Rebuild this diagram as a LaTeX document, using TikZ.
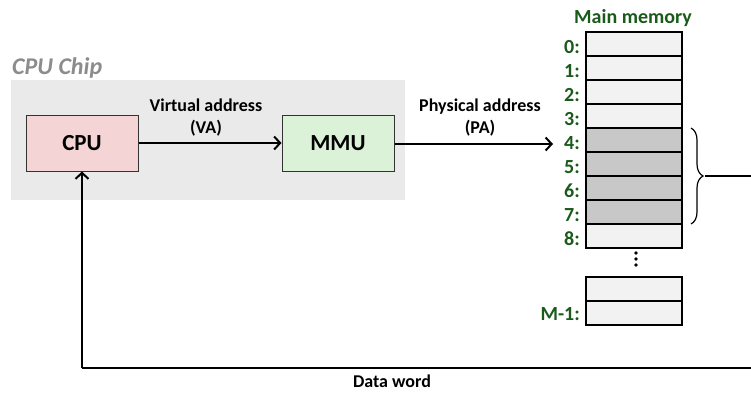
\documentclass[tikz,border=0pt]{standalone}
\usepackage{fontspec}
\setmainfont{Carlito}
\usetikzlibrary{arrows.meta,decorations.pathreplacing}
\definecolor{chipgray}{HTML}{EAEAEA}
\definecolor{chiplabel}{HTML}{8C8C8C}
\definecolor{cpufill}{HTML}{F4D4D4}
\definecolor{mmufill}{HTML}{DCF2D8}
\definecolor{celllight}{HTML}{F2F2F2}
\definecolor{celldark}{HTML}{C8C8C8}
\definecolor{addrgreen}{HTML}{1A5A1A}
\definecolor{boxborder}{HTML}{333333}
\tikzset{
  unitbox/.style={draw=boxborder, line width=1pt, minimum width=112pt, minimum height=56pt, inner sep=0pt, font=\fontsize{23}{26}\selectfont\bfseries},
  cell/.style={draw=black, line width=2pt, minimum width=96pt, minimum height=24pt, inner sep=0pt, fill=celllight},
  darkcell/.style={cell, fill=celldark},
  addr/.style={anchor=east, inner sep=0pt, text=addrgreen, font=\fontsize{20}{22}\selectfont\bfseries},
  lbl/.style={align=center, inner sep=0pt, font=\fontsize{18}{22}\selectfont\bfseries},
  conn/.style={line width=2.2pt, -{Straight Barb[length=6pt,width=13pt,line width=2pt]}},
  plain/.style={line width=2.2pt},
}
\begin{document}
\begin{tikzpicture}[x=1pt,y=-1pt]
\useasboundingbox (0,0) rectangle (751,392);
% chip
\fill[chipgray] (11,80) rectangle (405,200);
\node[anchor=base west, inner sep=0pt, text=chiplabel, font=\fontsize{24}{26}\selectfont\bfseries\itshape] (chiplbl) at (12,74) {CPU Chip};
\node[unitbox, fill=cpufill] (cpu) at (82,143) {CPU};
\node[unitbox, fill=mmufill] (mmu) at (338,143) {MMU};
% memory
\node[inner sep=0pt, text=addrgreen, font=\fontsize{20}{22}\selectfont\bfseries] (mmtitle) at (633,18) {Main memory};
\foreach \i/\st in {0/cell,1/cell,2/cell,3/cell,4/darkcell,5/darkcell,6/darkcell,7/darkcell,8/cell}{
  \node[\st] (m\i) at (634,{44+24*\i}) {};
  \node[addr] (a\i) at (580,{47+24*\i}) {\i:};
}
\node[cell] (mA) at (634,289) {};
\node[cell] (mB) at (634,313) {};
\node[addr] (aB) at (580,314) {M-1:};
\foreach \y in {253,259,265} \fill (636,\y) circle (1.8pt);
% brace
\draw[line width=1.2pt, decorate, decoration={brace, amplitude=12pt}] (691,128) -- (691,224);
\coordinate (btip) at (705,176);
\coordinate (r1) at (760,176);
\coordinate (r2) at (760,368);
\coordinate (r3) at (82,368);
% connectors
\draw[conn] (cpu) -- (mmu);
\node[lbl] (va) at (206,118) {Virtual address\\(VA)};
\coordinate (pa) at (553,144);
\draw[conn] (mmu.east |- pa) -- (pa);
\node[lbl] (palbl) at (480,118) {Physical address\\(PA)};
\draw[plain] (btip) -- (r1) -- (r2) -- (r3);
\draw[conn] (r3) -- (cpu.south);
\node[lbl] (dw) at (392,381) {Data word};
\end{tikzpicture}
\end{document}
